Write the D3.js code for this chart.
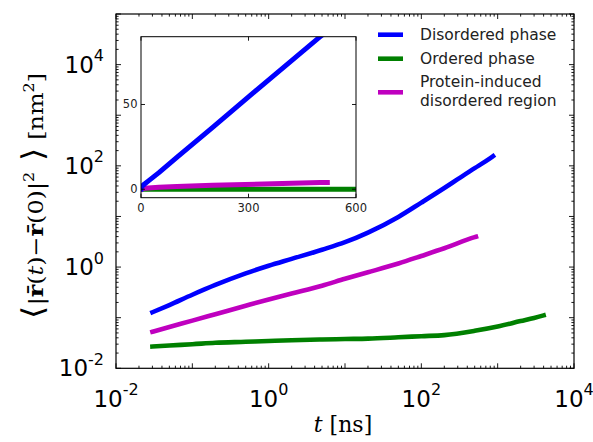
<!DOCTYPE html>
<html>
<head>
<meta charset="utf-8">
<script src="https://cdn.jsdelivr.net/npm/d3@7"></script>
<style>
  body { margin: 0; background: #fff; }
  svg { display: block; }
</style>
</head>
<body>
<svg id="chart" width="593" height="442"></svg>
<script>
// Mean-square displacement of lipid clusters, log-log, with a linear inset.

// Disordered phase
const tDisordered = [0.03, 0.05, 0.1, 0.2, 0.5, 1, 2, 5, 10, 20, 50, 100, 200, 300, 500, 700, 870];
const msdDisordered = [0.128, 0.178, 0.284, 0.443, 0.75, 1.06, 1.45, 2.2, 3.1, 4.8, 9.8, 18.8, 36.5, 54.5, 90, 124, 155];

// Ordered phase
const tOrdered = [0.03, 0.05, 0.1, 0.2, 0.5, 1, 2, 5, 10, 20, 50, 100, 200, 500, 1000, 2000, 3000, 4000];
const msdOrdered = [0.0269, 0.0282, 0.0299, 0.0319, 0.0334, 0.0347, 0.0359, 0.0371, 0.0379, 0.0386, 0.0410, 0.0431, 0.0453, 0.0551, 0.0670, 0.0857, 0.0986, 0.111];

// Protein-induced disordered region
const tProtein = [0.03, 0.05, 0.1, 0.2, 0.5, 1, 2, 5, 10, 20, 50, 100, 200, 500, 520];
const msdProtein = [0.0528, 0.0655, 0.0874, 0.117, 0.172, 0.229, 0.300, 0.429, 0.587, 0.789, 1.178, 1.657, 2.35, 3.9, 3.97];

const seriesNames = ["Disordered phase", "Ordered phase", "Protein-induced\ndisordered region"];
const seriesColors = ["#0000ff", "#008000", "#bf00bf"];

// Axis tick labels
const xMajorExponents = [-2, 0, 2, 4];
const yMajorExponents = [-2, 0, 2, 4];
const insetXTicks = [0, 300, 600];
const insetYTicks = [0, 50];

const series = [
  { t: tDisordered, v: msdDisordered },
  { t: tOrdered, v: msdOrdered },
  { t: tProtein, v: msdProtein }
].map((s, i) => ({
  name: seriesNames[i],
  color: seriesColors[i],
  points: s.t.map((t, j) => ({ t, v: s.v[j] }))
}));

const svg = d3.select("#chart");
const sans = "DejaVu Sans, sans-serif";
const serif = "DejaVu Serif, serif";

// ---------- main log-log panel ----------
const P = { left: 116, right: 574, top: 14, bottom: 368.3 };
const x = d3.scaleLog().domain([1e-2, 1e4]).range([P.left, P.right]);
const y = d3.scaleLog().domain([1e-2, 1e5]).range([P.bottom, P.top]);

svg.append("defs").append("clipPath").attr("id", "mainClip")
  .append("rect").attr("x", P.left).attr("y", P.top)
  .attr("width", P.right - P.left).attr("height", P.bottom - P.top);

const line = d3.line().x(d => x(d.t)).y(d => y(d.v)).curve(d3.curveMonotoneX);

svg.append("g").attr("clip-path", "url(#mainClip)")
  .selectAll("path").data(series).join("path")
  .attr("d", d => line(d.points))
  .attr("fill", "none")
  .attr("stroke", d => d.color)
  .attr("stroke-width", 4.6)
  .attr("stroke-linecap", "square")
  .attr("stroke-linejoin", "round");

// log ticks on all four sides, pointing inward
function logTickValues(lo, hi) {
  const out = [];
  for (let k = lo; k < hi; k++) {
    for (let m = 1; m <= 9; m++) out.push({ v: m * Math.pow(10, k), major: m === 1 });
  }
  out.push({ v: Math.pow(10, hi), major: true });
  return out;
}
const tickG = svg.append("g").attr("stroke", "#000").attr("stroke-width", 0.9);
logTickValues(-2, 4).forEach(tk => {
  const px = x(tk.v), len = tk.major ? 5 : 2.6;
  tickG.append("line").attr("x1", px).attr("x2", px).attr("y1", P.bottom).attr("y2", P.bottom - len);
  tickG.append("line").attr("x1", px).attr("x2", px).attr("y1", P.top).attr("y2", P.top + len);
});
logTickValues(-2, 5).forEach(tk => {
  const py = y(tk.v), len = tk.major ? 5 : 2.6;
  tickG.append("line").attr("y1", py).attr("y2", py).attr("x1", P.left).attr("x2", P.left + len);
  tickG.append("line").attr("y1", py).attr("y2", py).attr("x1", P.right).attr("x2", P.right - len);
});

svg.append("rect")
  .attr("x", P.left).attr("y", P.top)
  .attr("width", P.right - P.left).attr("height", P.bottom - P.top)
  .attr("fill", "none").attr("stroke", "#000").attr("stroke-width", 1.2);

// power-of-ten labels
function powerLabel(g, e) {
  g.append("tspan").text("10").attr("font-size", 23);
  g.append("tspan").text(e < 0 ? "-" + (-e) : String(e))
    .attr("font-size", 16).attr("dy", -11.5);
}
xMajorExponents.forEach(e => {
  const t = svg.append("text")
    .attr("x", x(Math.pow(10, e))).attr("y", 406.5)
    .attr("text-anchor", "middle").attr("font-family", sans).attr("fill", "#000");
  powerLabel(t, e);
});
yMajorExponents.forEach(e => {
  const t = svg.append("text")
    .attr("x", 104).attr("y", y(Math.pow(10, e)) + 8)
    .attr("text-anchor", "end").attr("font-family", sans).attr("fill", "#000");
  powerLabel(t, e);
});

// axis titles
const xt = svg.append("text")
  .attr("x", 343).attr("y", 432)
  .attr("text-anchor", "middle").attr("font-family", serif).attr("font-size", 22).attr("fill", "#000");
xt.append("tspan").text("t").attr("font-style", "italic");
xt.append("tspan").text(" [ns]");

const yt = svg.append("text")
  .attr("transform", "translate(43,196) rotate(-90)")
  .attr("text-anchor", "middle").attr("font-family", serif).attr("font-size", 21).attr("fill", "#000")
  .attr("textLength", 246).attr("lengthAdjust", "spacingAndGlyphs");
yt.append("tspan").text("\u27E8").attr("font-size", 30).attr("font-family", sans).attr("font-weight", 200);
yt.append("tspan").text("|");
yt.append("tspan").text("r\u0304").attr("font-weight", "bold");
yt.append("tspan").text("(");
yt.append("tspan").text("t").attr("font-style", "italic");
yt.append("tspan").text(")\u2212");
yt.append("tspan").text("r\u0304").attr("font-weight", "bold");
yt.append("tspan").text("(0)|");
yt.append("tspan").text("2").attr("font-size", 14).attr("dy", -9);
yt.append("tspan").text(" \u27E9").attr("font-size", 30).attr("dy", 9).attr("font-family", sans).attr("font-weight", 200);
yt.append("tspan").text(" [nm");
yt.append("tspan").text("2").attr("font-size", 14).attr("dy", -9);
yt.append("tspan").text("]").attr("dy", 9);

// ---------- linear inset ----------
const I = { left: 141, right: 356, top: 36.7, bottom: 197.7 };
const xi = d3.scaleLinear().domain([0, 600]).range([I.left, I.right]);
const yi = d3.scaleLinear().domain([-5, 90]).range([I.bottom, I.top]);

svg.append("rect")
  .attr("x", I.left).attr("y", I.top)
  .attr("width", I.right - I.left).attr("height", I.bottom - I.top)
  .attr("fill", "#fff");

svg.select("defs").append("clipPath").attr("id", "insetClip")
  .append("rect").attr("x", I.left).attr("y", I.top)
  .attr("width", I.right - I.left).attr("height", I.bottom - I.top);

const lineI = d3.line().x(d => xi(d.t)).y(d => yi(d.v));
svg.append("g").attr("clip-path", "url(#insetClip)")
  .selectAll("path").data([series[1], series[2], series[0]]).join("path")
  .attr("d", d => lineI(d.points))
  .attr("fill", "none")
  .attr("stroke", d => d.color)
  .attr("stroke-width", 5)
  .attr("stroke-linecap", "square")
  .attr("stroke-linejoin", "round");

const itg = svg.append("g").attr("stroke", "#000").attr("stroke-width", 0.9);
insetXTicks.forEach(v => {
  itg.append("line").attr("x1", xi(v)).attr("x2", xi(v)).attr("y1", I.bottom).attr("y2", I.bottom - 4);
  itg.append("line").attr("x1", xi(v)).attr("x2", xi(v)).attr("y1", I.top).attr("y2", I.top + 4);
});
insetYTicks.forEach(v => {
  itg.append("line").attr("y1", yi(v)).attr("y2", yi(v)).attr("x1", I.left).attr("x2", I.left + 4);
  itg.append("line").attr("y1", yi(v)).attr("y2", yi(v)).attr("x1", I.right).attr("x2", I.right - 4);
});

svg.append("rect")
  .attr("x", I.left).attr("y", I.top)
  .attr("width", I.right - I.left).attr("height", I.bottom - I.top)
  .attr("fill", "none").attr("stroke", "#000").attr("stroke-width", 1);

svg.selectAll(".ixl").data(insetXTicks).join("text")
  .attr("x", d => xi(d)).attr("y", 212)
  .attr("text-anchor", "middle").attr("font-family", sans).attr("font-size", 11.5).attr("fill", "#222")
  .text(d => d);
svg.selectAll(".iyl").data(insetYTicks).join("text")
  .attr("x", I.left - 3.5).attr("y", d => yi(d) + 4)
  .attr("text-anchor", "end").attr("font-family", sans).attr("font-size", 11.5).attr("fill", "#222")
  .text(d => d);

// ---------- legend ----------
const legendRows = [
  { lineY: 34.7, textY: [34.7] },
  { lineY: 58.7, textY: [58.7] },
  { lineY: 92.3, textY: [81.7, 100] }
];
series.forEach((s, i) => {
  const r = legendRows[i];
  svg.append("line")
    .attr("x1", 378).attr("x2", 403).attr("y1", r.lineY).attr("y2", r.lineY)
    .attr("stroke", s.color).attr("stroke-width", 4.6);
  s.name.split("\n").forEach((ln, j) => {
    svg.append("text")
      .attr("x", 420).attr("y", r.textY[j] + 5.5)
      .attr("font-family", sans).attr("font-size", 15.5).attr("fill", "#222")
      .text(ln);
  });
});
</script>
</body>
</html>
